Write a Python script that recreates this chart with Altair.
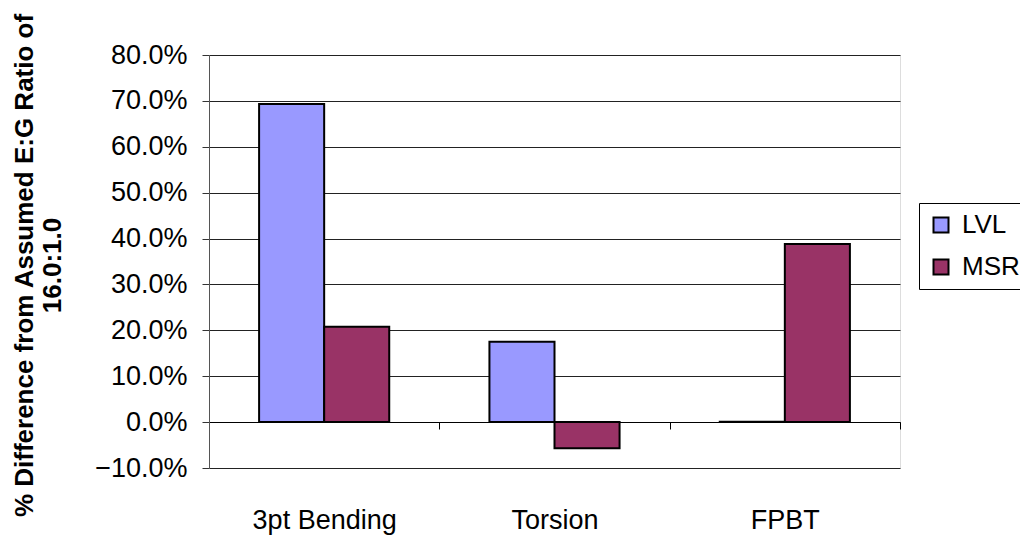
import altair as alt
import pandas as pd

tests = ["3pt Bending", "Torsion", "FPBT"]
series = ["LVL", "MSR"]
lvl_values = [0.693, 0.175, 0.001]
msr_values = [0.208, -0.057, 0.388]
y_ticks = [-0.1, 0.0, 0.1, 0.2, 0.3, 0.4, 0.5, 0.6, 0.7, 0.8]
colors = ["#9999FF", "#993366"]

rows = []
for t, a, b in zip(tests, lvl_values, msr_values):
    rows.append({"test": t, "material": "LVL", "diff": a})
    rows.append({"test": t, "material": "MSR", "diff": b})
df = pd.DataFrame(rows)

FONT = "Liberation Sans"

bars = (
    alt.Chart(df)
    .mark_bar(stroke="black", strokeWidth=2)
    .encode(
        x=alt.X(
            "test:N",
            sort=tests,
            title=None,
            scale=alt.Scale(paddingInner=0, paddingOuter=0),
            axis=alt.Axis(
                labelAngle=0,
                labelFont=FONT,
                labelFontSize=27,
                labelColor="black",
                labelPadding=78,
                domain=True,
                domainColor="black",
                domainWidth=1,
                ticks=True,
                tickColor="black",
                tickSize=7,
                tickBand="extent",
                offset=-46,
                grid=False,
            ),
        ),
        xOffset=alt.XOffset(
            "material:N",
            sort=series,
            scale=alt.Scale(paddingInner=0, paddingOuter=0.77),
        ),
        y=alt.Y(
            "diff:Q",
            scale=alt.Scale(domain=[-0.1, 0.8], nice=False, zero=False),
            axis=alt.Axis(
                values=y_ticks,
                format=".1%",
                labelFont=FONT,
                labelFontSize=27,
                labelColor="black",
                labelPadding=15,
                tickSize=7,
                tickColor="#333333",
                domainColor="#555555",
                gridColor="#222222",
                gridWidth=1,
                title=["% Difference from Assumed E:G Ratio of", "16.0:1.0"],
                titleFont=FONT,
                titleFontSize=26,
                titleFontWeight="bold",
                titleColor="black",
                titleLineHeight=28,
                titleAngle=-90,
                titleBaseline="top",
                titleX=-198,
                titleY=210,
            ),
        ),
        color=alt.Color(
            "material:N",
            sort=series,
            scale=alt.Scale(domain=series, range=colors),
            legend=alt.Legend(
                title=None,
                orient="none",
                legendX=710,
                legendY=148,
                labelFont=FONT,
                labelFontSize=26,
                labelColor="black",
                labelOffset=8,
                symbolType="square",
                symbolSize=225,
                symbolStrokeColor="black",
                symbolStrokeWidth=2,
                rowPadding=16,
                padding=9,
                strokeColor="black",
                fillColor="white",
            ),
        ),
    )
)

chart = (
    bars.properties(
        width=691,
        height=413,
        autosize=alt.AutoSizeParams(type="none"),
        padding={"left": 209, "top": 55, "right": 120, "bottom": 72},
    )
    .configure_view(stroke=None)
    .configure(background="white")
)

chart.save("out.html", embed_options={"renderer": "svg", "actions": False})
